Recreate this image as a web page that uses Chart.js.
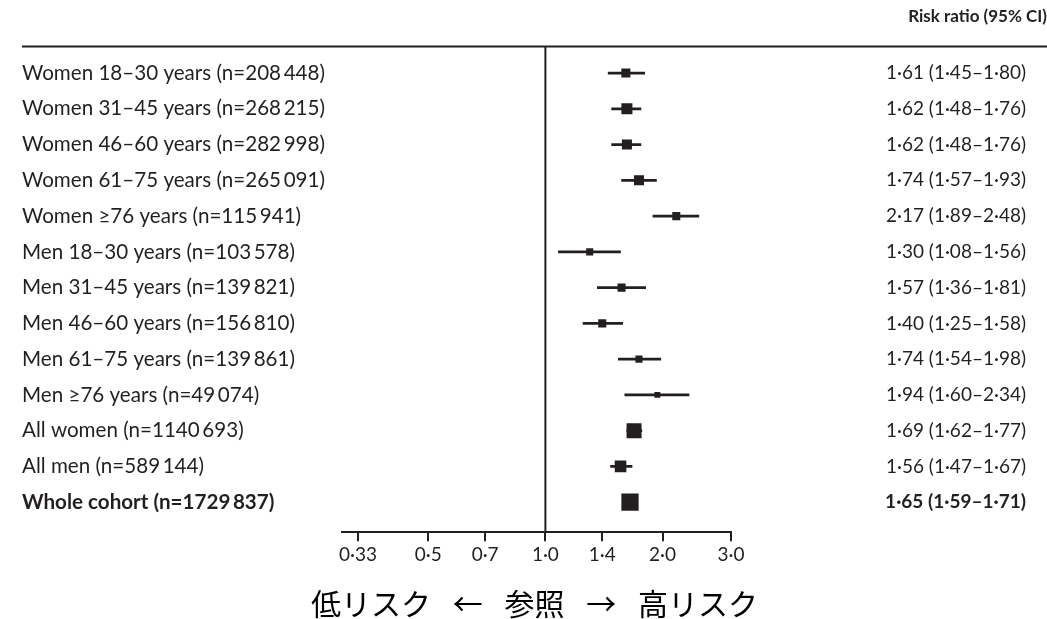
<!DOCTYPE html>
<html>
<head>
<meta charset="utf-8">
<script src="https://cdn.jsdelivr.net/npm/chart.js@4.4.1/dist/chart.umd.min.js"></script>
<style>
  body { margin: 0; background: #fff; }
  canvas { display: block; }
</style>
</head>
<body>
<canvas id="forest" width="1047" height="619"></canvas>
<script>
// groups shown down the left side
let groups = [
  "Women 18–30 years (n=208\u2009448)",
  "Women 31–45 years (n=268\u2009215)",
  "Women 46–60 years (n=282\u2009998)",
  "Women 61–75 years (n=265\u2009091)",
  "Women ≥76 years (n=115\u2009941)",
  "Men 18–30 years (n=103\u2009578)",
  "Men 31–45 years (n=139\u2009821)",
  "Men 46–60 years (n=156\u2009810)",
  "Men 61–75 years (n=139\u2009861)",
  "Men ≥76 years (n=49\u2009074)",
  "All women (n=1140\u2009693)",
  "All men (n=589\u2009144)",
  "Whole cohort (n=1729\u2009837)"
];
let riskRatio = [1.61, 1.62, 1.62, 1.74, 2.17, 1.30, 1.57, 1.40, 1.74, 1.94, 1.69, 1.56, 1.65];
let ciLow     = [1.45, 1.48, 1.48, 1.57, 1.89, 1.08, 1.36, 1.25, 1.54, 1.60, 1.62, 1.47, 1.59];
let ciHigh    = [1.80, 1.76, 1.76, 1.93, 2.48, 1.56, 1.81, 1.58, 1.98, 2.34, 1.77, 1.67, 1.71];
let xTicks = [0.33, 0.5, 0.7, 1.0, 1.4, 2.0, 3.0];

const ink = "#231f20";
const fontFam = "Lato, 'Noto Sans', sans-serif";

function dot(v, d) {
  return v.toFixed(d).replace(".", "·");
}

const rowTicks = groups.map((g, i) => ({ value: i }));

// draws the top rule and the line of no effect
const rules = {
  id: "rules",
  beforeDatasetsDraw(chart) {
    const { ctx, chartArea, scales } = chart;
    const x1 = scales.x.getPixelForValue(1);
    ctx.save();
    ctx.strokeStyle = ink;
    ctx.lineWidth = 2;
    ctx.beginPath();
    ctx.moveTo(22, chartArea.top);
    ctx.lineTo(chart.width, chartArea.top);
    ctx.moveTo(x1, chartArea.top);
    ctx.lineTo(x1, chartArea.bottom);
    ctx.stroke();
    ctx.restore();
  }
};

const rowAxis = {
  type: "linear",
  reverse: true,
  offset: false,
  min: -0.746,
  max: 12.84,
  afterBuildTicks: s => { s.ticks = rowTicks.map(t => ({ value: t.value })); },
  grid: { display: false },
  border: { display: false }
};

new Chart(document.getElementById("forest"), {
  data: {
    datasets: [
      {
        type: "scatter",
        data: riskRatio.map((v, i) => ({ x: v, y: i })),
        pointStyle: "rect",
        pointRadius: [6.4, 7.8, 7.1, 7.1, 5.7, 5, 5.7, 5.7, 5, 4.2, 10.6, 8.2, 12.2],
        backgroundColor: ink,
        borderWidth: 0,
        order: 0
      },
      {
        type: "bar",
        data: ciLow.map((v, i) => ({ x: [v, ciHigh[i]], y: i })),
        backgroundColor: ink,
        barThickness: 2,
        borderWidth: 0,
        order: 1
      }
    ]
  },
  options: {
    indexAxis: "y",
    responsive: false,
    animation: false,
    layout: { padding: { left: 22, right: 0, top: 0, bottom: 0 } },
    plugins: {
      legend: { display: false },
      tooltip: { enabled: false },
      title: {
        display: true,
        text: "Risk ratio (95% CI)",
        align: "end",
        color: ink,
        font: { family: fontFam, size: 17, weight: "bold" },
        padding: { top: 6, bottom: 20 }
      },
      subtitle: {
        display: true,
        position: "bottom",
        text: "低リスク\u2002 ←\u2002 参照\u2002 →\u2002 高リスク",
        color: "#000",
        font: { family: "'Noto Sans CJK JP', sans-serif", size: 30, lineHeight: 1 },
        padding: { top: 21, bottom: 0 }
      }
    },
    scales: {
      x: {
        type: "logarithmic",
        min: 0.33,
        max: 3,
        afterBuildTicks: s => { s.ticks = xTicks.map(v => ({ value: v })); },
        ticks: {
          color: ink,
          padding: 2,
          autoSkip: false,
          maxRotation: 0,
          font: { family: fontFam, size: 19 },
          callback: v => dot(v, v < 0.4 ? 2 : 1)
        },
        grid: { drawOnChartArea: false, drawTicks: true, tickLength: 9, color: ink, lineWidth: 2 },
        border: { display: true, color: ink, width: 2 }
      },
      y: Object.assign({}, rowAxis, {
        position: "left",
        afterFit: s => { s.width = 320; },
        ticks: {
          crossAlign: "far",
          color: ink,
          autoSkip: false,
          font: ctx => ({ family: fontFam, size: 20.6, weight: ctx.index === 12 ? "bold" : "normal" }),
          callback: v => groups[v]
        }
      }),
      y2: Object.assign({}, rowAxis, {
        position: "right",
        afterFit: s => { s.width = 295; },
        ticks: {
          crossAlign: "far",
          color: ink,
          autoSkip: false,
          font: ctx => ({ family: fontFam, size: 19, weight: ctx.index === 12 ? "bold" : "normal" }),
          callback: v => dot(riskRatio[v], 2) + " (" + dot(ciLow[v], 2) + "–" + dot(ciHigh[v], 2) + ")"
        }
      }),
      // empty strip on the far right so the values stop short of the edge
      gap: Object.assign({}, rowAxis, {
        position: "right",
        afterFit: s => { s.width = 21; },
        ticks: { display: false }
      })
    }
  },
  plugins: [rules]
});
</script>
</body>
</html>
